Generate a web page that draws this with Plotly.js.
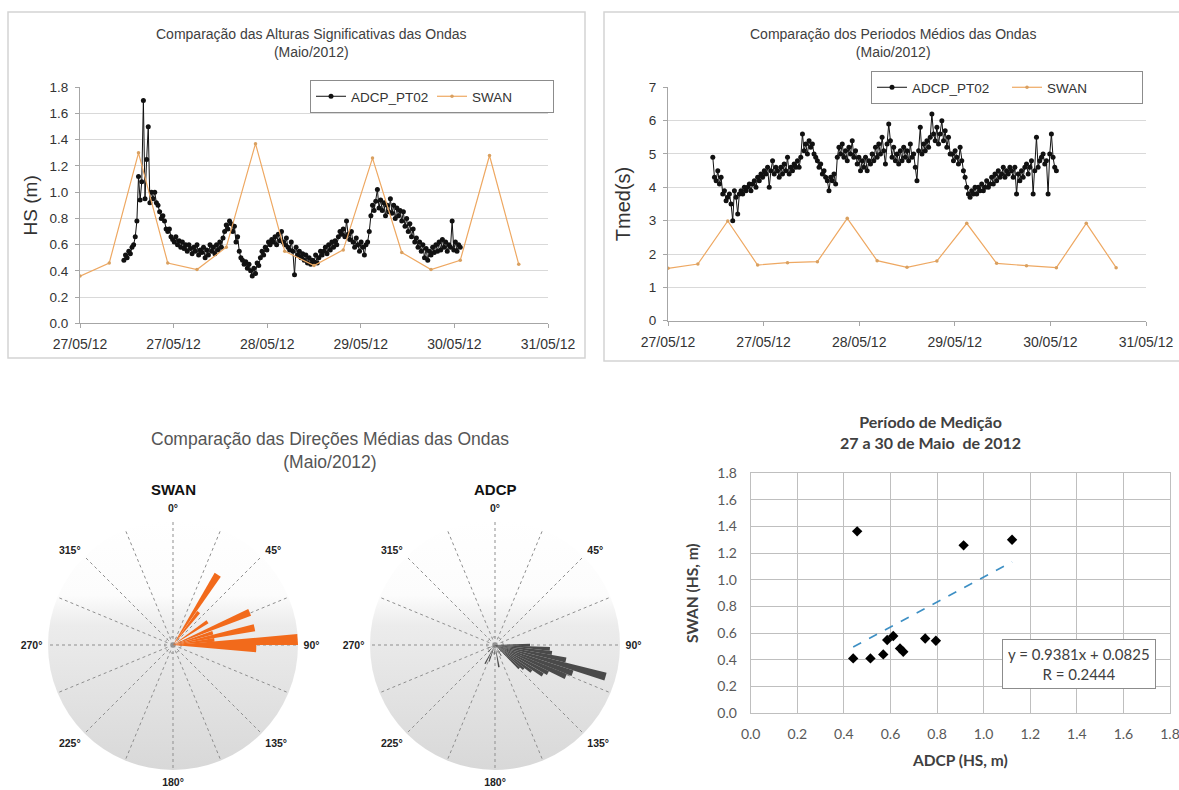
<!DOCTYPE html>
<html><head><meta charset="utf-8">
<script src="https://cdn.plot.ly/plotly-3.0.1.min.js"></script>
<style>html,body{margin:0;padding:0;background:#fff;} #chart{width:1179px;height:790px;}</style>
</head><body><div id="chart"></div>
<script>
// ---------- DATA ----------
// time axis (hours since 27/05/12 00:00), ticks every 0.8 day
const timeTickVals = [0, 19.2, 38.4, 57.6, 76.8, 96];
const timeTickText = ['27/05/12', '27/05/12', '28/05/12', '29/05/12', '30/05/12', '31/05/12'];
const hsTicks = [0, 0.2, 0.4, 0.6, 0.8, 1.0, 1.2, 1.4, 1.6, 1.8];
const tmedTicks = [0, 1, 2, 3, 4, 5, 6, 7];

// SWAN model output every 6 h
const swanHours = [0, 6, 12, 18, 24, 30, 36, 42, 48, 54, 60, 66, 72, 78, 84, 90];
const swanHs   = [0.36, 0.46, 1.30, 0.46, 0.41, 0.58, 1.37, 0.55, 0.44, 0.56, 1.26, 0.54, 0.41, 0.48, 1.28, 0.45];
const swanTmed = [1.57, 1.70, 2.99, 1.67, 1.74, 1.77, 3.07, 1.80, 1.60, 1.79, 2.92, 1.72, 1.65, 1.59, 2.92, 1.59];

// ADCP_PT02 records, every 20 min starting 27/05 09:00
const adcpStartHour = 9;
const adcpStepHours = 1 / 3;
const adcpHs = [
  0.48,0.52,0.50, 0.55,0.53,0.58, 0.60,0.66,0.78, 1.12,0.94,1.08, 1.70,0.95,1.25,
  1.50,0.92,1.00, 0.95,1.00,0.92, 0.90,0.85,0.80, 0.82,0.78,0.72, 0.70,0.72,0.66,
  0.64,0.62,0.66, 0.60,0.63,0.58, 0.62,0.57,0.60, 0.55,0.60,0.57, 0.53,0.58,0.55,
  0.60,0.52,0.56, 0.54,0.58,0.50, 0.56,0.52,0.60, 0.55,0.58,0.53, 0.60,0.56,0.62,
  0.58,0.65,0.70, 0.75,0.72,0.78, 0.76,0.70,0.74, 0.62,0.66,0.55, 0.50,0.48,0.45,
  0.47,0.42,0.45, 0.40,0.36,0.42, 0.38,0.46,0.44, 0.50,0.55,0.52, 0.58,0.56,0.62,
  0.60,0.64,0.62, 0.66,0.60,0.68, 0.63,0.70,0.62, 0.60,0.65,0.58, 0.56,0.62,0.55,
  0.37,0.58,0.52, 0.55,0.50,0.53, 0.48,0.52,0.46, 0.50,0.45,0.48, 0.47,0.52,0.46,
  0.50,0.55,0.52, 0.55,0.58,0.53, 0.60,0.56,0.62, 0.58,0.63,0.60, 0.66,0.70,0.68,
  0.72,0.66,0.78, 0.68,0.64,0.70, 0.62,0.58,0.65, 0.60,0.55,0.62, 0.58,0.52,0.60,
  0.62,0.70,0.82, 0.90,0.86,0.93, 1.02,0.88,0.94, 0.86,0.92,0.82, 0.90,0.85,0.95,
  0.84,0.90,0.80, 0.88,0.82,0.86, 0.78,0.85,0.74, 0.80,0.70,0.76, 0.66,0.72,0.62,
  0.65,0.58,0.62, 0.55,0.60,0.50, 0.57,0.48,0.55, 0.52,0.58,0.54, 0.60,0.55,0.62,
  0.56,0.64,0.58, 0.62,0.55,0.60, 0.58,0.78,0.56, 0.62,0.55,0.60, 0.58
];
const adcpTmed = [
  4.9,4.3,4.2, 4.5,4.1,4.3, 3.8,3.9,3.6, 3.7,3.8,3.5, 3.0,3.9,3.7,
  3.2,3.8,3.9, 3.8,4.0,3.9, 4.0,4.1,3.9, 4.1,4.2,4.0, 4.3,4.2,4.4,
  4.3,4.5,4.4, 4.6,4.0,4.5, 4.8,4.4,4.6, 4.5,4.3,4.6, 4.4,4.7,4.5,
  4.9,4.4,4.6, 4.5,4.7,4.6, 4.8,4.6,4.9, 5.6,5.1,5.3, 5.0,5.4,5.2,
  5.3,5.0,4.9, 4.8,4.6,4.7, 4.4,4.5,4.3, 4.2,3.9,4.3, 4.2,4.4,4.1,
  4.9,5.2,5.0, 5.3,4.9,5.1, 4.8,5.2,5.0, 5.4,4.9,5.1, 4.7,4.9,4.5,
  4.8,4.6,4.9, 4.5,4.8,4.7, 5.0,4.8,5.2, 4.9,5.3,5.0, 5.5,5.1,4.7,
  5.3,5.9,5.4, 4.9,5.2,4.8, 5.0,4.7,5.1, 4.8,5.2,4.9, 5.1,4.8,5.3,
  4.9,5.0,4.6, 4.2,5.1,5.8, 5.0,5.3,5.1, 5.4,5.2,5.5, 6.2,5.6,5.4,
  5.8,5.3,5.6, 6.0,5.4,5.7, 5.2,5.5,5.0, 5.0,4.8,5.1, 4.9,4.7,5.2,
  4.8,4.5,4.3, 4.0,3.8,3.7, 3.9,3.8,4.0, 3.8,4.0,3.9, 4.1,3.9,4.0,
  4.2,4.0,4.1, 4.3,4.1,4.4, 4.2,4.5,4.3, 4.4,4.6,4.3, 4.5,4.4,4.6,
  4.5,4.3,4.6, 3.8,4.4,4.2, 4.5,4.3,4.6, 4.7,4.4,4.6, 4.8,3.8,4.5,
  5.5,4.6,4.8, 4.9,5.0,4.7, 4.8,3.8,5.0, 5.6,4.9,4.6, 4.5
];

// wave direction roses
const dirTickVals = [0,22.5,45,67.5,90,112.5,135,157.5,180,202.5,225,247.5,270,292.5,315,337.5];
const dirTickText = ['0°','','45°','','90°','','135°','','180°','','225°','','270°','','315°',''];
const swanDirTheta = [32.5, 38, 56, 67, 73, 78, 83, 87.5, 92.5];
const swanDirCount = [2, 1, 1, 2, 1, 2, 1, 3, 2];
const adcpDirTheta = [90, 94, 98, 102, 106, 110, 114, 118, 122, 126, 130, 134, 150, 170, 185, 200, 208, 225, 245];
const adcpDirFreq  = [0.28, 0.44, 0.46, 0.58, 0.92, 0.66, 0.62, 0.48, 0.45, 0.36, 0.30, 0.27, 0.10, 0.18, 0.08, 0.14, 0.17, 0.08, 0.06];

// scatter ADCP vs SWAN
const scatAdcp = [0.457, 0.914, 1.122, 0.440, 0.514, 0.569, 0.586, 0.612, 0.641, 0.655, 0.749, 0.795];
const scatSwan = [1.364, 1.259, 1.301, 0.410, 0.410, 0.440, 0.548, 0.578, 0.485, 0.460, 0.560, 0.543];
const scatTicks = [0, 0.2, 0.4, 0.6, 0.8, 1.0, 1.2, 1.4, 1.6, 1.8];
const fitSlope = 0.9381, fitIntercept = 0.0825, fitR = 0.2444;

// ---------- BUILD ----------
const W = 1179, H = 790;
const X = px => px / W, Y = py => 1 - py / H;
const adcpHours = adcpHs.map((_, i) => adcpStartHour + i * adcpStepHours);
const fitX = [Math.min(...scatAdcp), Math.max(...scatAdcp)];
const fitY = fitX.map(v => fitSlope * v + fitIntercept);

const AR = 'Liberation Sans, Arial, sans-serif';
const CAL = 'Lato, Open Sans, sans-serif';
const ORANGE_LINE = '#eea862';

const traces = [
  {type:'scatter', mode:'lines+markers', name:'ADCP_PT02', x:adcpHours, y:adcpHs, xaxis:'x', yaxis:'y',
   line:{color:'#111', width:1}, marker:{color:'#111', size:5}, legend:'legend'},
  {type:'scatter', mode:'lines+markers', name:'SWAN', x:swanHours, y:swanHs, xaxis:'x', yaxis:'y',
   line:{color:ORANGE_LINE, width:1.2}, marker:{color:'#d9a060', size:3.5}, legend:'legend'},
  {type:'scatter', mode:'lines+markers', name:'ADCP_PT02', x:adcpHours, y:adcpTmed, xaxis:'x2', yaxis:'y2',
   line:{color:'#111', width:1}, marker:{color:'#111', size:5}, legend:'legend2'},
  {type:'scatter', mode:'lines+markers', name:'SWAN', x:swanHours, y:swanTmed, xaxis:'x2', yaxis:'y2',
   line:{color:ORANGE_LINE, width:1.2}, marker:{color:'#d9a060', size:3.5}, legend:'legend2'},
  {type:'barpolar', subplot:'polar', theta:swanDirTheta, r:swanDirCount, width:5,
   marker:{color:'#f26a1b', line:{width:0}}, showlegend:false},
  {type:'barpolar', subplot:'polar2', theta:adcpDirTheta, r:adcpDirFreq, width:4,
   marker:{color:'#4a4a4a', line:{width:0}}, showlegend:false},
  {type:'scatter', mode:'markers', x:scatAdcp, y:scatSwan, xaxis:'x3', yaxis:'y3',
   marker:{symbol:'diamond', color:'#000', size:8}, showlegend:false},
  {type:'scatter', mode:'lines', x:fitX, y:fitY, xaxis:'x3', yaxis:'y3',
   line:{color:'#3d8fc4', width:1.6, dash:'dash'}, showlegend:false}
];

const tsX = (domain) => ({
  domain, range:[0, 96], tickmode:'array', tickvals:timeTickVals, ticktext:timeTickText,
  showgrid:false, zeroline:false, showline:true, linecolor:'#a6a6a6', linewidth:1,
  ticks:'outside', ticklen:4, tickcolor:'#a6a6a6', ticklabelstandoff:4,
  tickfont:{family:AR, size:14, color:'#333'}
});
const tsY = (domain, range, tickvals, fmt, title, tsize, standoff) => ({
  domain, range, tickmode:'array', tickvals, tickformat:fmt, showgrid:true, gridcolor:'#d9d9d9', zeroline:false,
  showline:true, linecolor:'#a6a6a6', ticks:'outside', ticklen:4, tickcolor:'#a6a6a6',
  ticklabelstandoff:4, tickfont:{family:AR, size:13.5, color:'#333'},
  title:{text:title, font:{family:AR, size:tsize, color:'#333'}, standoff}
});

const gradSvg = 'data:image/svg+xml;charset=utf-8,' + encodeURIComponent(
 '<svg xmlns="http://www.w3.org/2000/svg" width="250" height="250" viewBox="0 0 250 250">' +
 '<defs><linearGradient id="g" x1="0" y1="0" x2="0" y2="1">' +
 '<stop offset="0" stop-color="#ffffff"/><stop offset="0.3" stop-color="#fcfcfc"/>' +
 '<stop offset="0.42" stop-color="#ececec"/><stop offset="1" stop-color="#d8d8d8"/>' +
 '</linearGradient></defs><circle cx="125" cy="125" r="125" fill="url(#g)"/></svg>');

const polarAx = (dom, rmax) => ({
  domain:dom, bgcolor:'rgba(0,0,0,0)',
  angularaxis:{rotation:90, direction:'clockwise', tickmode:'array', tickvals:dirTickVals, ticktext:dirTickText,
    showline:false, ticks:'outside', ticklen:3, tickcolor:'rgba(0,0,0,0)', showgrid:true, gridcolor:'#8f8f8f',
    griddash:'dot', gridwidth:1, tickfont:{family:AR, size:10.5, color:'#222', weight:'bold'}},
  radialaxis:{range:[0, rmax], tickmode:'array', tickvals:[rmax*0.065, rmax*0.997], showticklabels:false,
    ticks:'', showline:false, showgrid:true, gridcolor:'#8f8f8f', griddash:'dot', gridwidth:1}
});

const layout = {
  width:W, height:H, margin:{l:0, r:0, t:0, b:0, autoexpand:false}, paper_bgcolor:'#fff', plot_bgcolor:'#fff',
  font:{family:AR, color:'#333'},
  xaxis: tsX([X(80), X(548)]),
  yaxis: tsY([Y(323.3), Y(87.3)], [0, 1.8], hsTicks, '.1f', 'HS (m)', 19, 6),
  xaxis2: Object.assign(tsX([X(668), X(1146)]), {anchor:'y2'}),
  yaxis2: Object.assign(tsY([Y(320.7), Y(87.3)], [0, 7], tmedTicks, 'd', 'Tmed(s)', 20, 12), {anchor:'x2'}),
  xaxis3: {domain:[X(750.7), X(1170)], anchor:'y3', range:[0, 1.8], tickmode:'array', tickvals:scatTicks, tickformat:'.1f',
    showgrid:true, gridcolor:'#bfbfbf', zeroline:false, showline:true, mirror:true, linecolor:'#bfbfbf',
    ticks:'outside', ticklen:8, tickcolor:'rgba(0,0,0,0)', ticklabeloverflow:'allow',
    tickfont:{family:CAL, size:14, color:'#595959'},
    title:{text:'ADCP (HS, m)', font:{family:CAL, size:15.5, color:'#404040', weight:'bold'}, standoff:14}},
  yaxis3: {domain:[Y(713), Y(473.3)], anchor:'x3', range:[0, 1.8], tickmode:'array', tickvals:scatTicks, tickformat:'.1f',
    showgrid:true, gridcolor:'#bfbfbf', zeroline:false, showline:true, mirror:true, linecolor:'#bfbfbf',
    ticks:'outside', ticklen:10, tickcolor:'rgba(0,0,0,0)', tickfont:{family:CAL, size:14, color:'#595959'},
    title:{text:'SWAN (HS, m)', font:{family:CAL, size:15.5, color:'#404040', weight:'bold'}, standoff:14}},
  polar: polarAx({x:[X(48), X(298)], y:[Y(770), Y(520)]}, 3),
  polar2: polarAx({x:[X(370), X(620)], y:[Y(770), Y(520)]}, 1),
  legend: {x:X(310), xanchor:'left', y:Y(80), yanchor:'top', orientation:'h', bgcolor:'#fff',
    bordercolor:'#8c8c8c', borderwidth:1, font:{family:AR, size:13.5, color:'#333'}, entrywidth:76, itemwidth:30},
  legend2: {x:X(871), xanchor:'left', y:Y(71), yanchor:'top', orientation:'h', bgcolor:'#fff',
    bordercolor:'#8c8c8c', borderwidth:1, font:{family:AR, size:13.5, color:'#333'}, entrywidth:90, itemwidth:30},
  images: [
    {source:gradSvg, xref:'paper', yref:'paper', x:X(48), y:Y(520), sizex:250/W, sizey:250/H,
     xanchor:'left', yanchor:'top', sizing:'stretch', layer:'below'},
    {source:gradSvg, xref:'paper', yref:'paper', x:X(370), y:Y(520), sizex:250/W, sizey:250/H,
     xanchor:'left', yanchor:'top', sizing:'stretch', layer:'below'}
  ],
  shapes: [
    {type:'rect', xref:'paper', yref:'paper', x0:X(8), x1:X(585), y0:Y(358), y1:Y(12), line:{color:'#d4d4d4', width:1.5}, layer:'below'},
    {type:'rect', xref:'paper', yref:'paper', x0:X(604), x1:X(1180), y0:Y(361), y1:Y(12), line:{color:'#d4d4d4', width:1.5}, layer:'below'}
  ],
  annotations: [
    {text:'Comparação das Alturas Significativas das Ondas<br>(Maio/2012)', x:X(311), y:Y(43.5), xref:'paper', yref:'paper',
     showarrow:false, xanchor:'center', yanchor:'middle', font:{family:AR, size:14, color:'#404040'}},
    {text:'Comparação dos Periodos Médios das Ondas<br>(Maio/2012)', x:X(893), y:Y(43.5), xref:'paper', yref:'paper',
     showarrow:false, xanchor:'center', yanchor:'middle', font:{family:AR, size:14, color:'#404040'}},
    {text:'Comparação das Direções Médias das Ondas<br>(Maio/2012)', x:X(330), y:Y(450.5), xref:'paper', yref:'paper',
     showarrow:false, xanchor:'center', yanchor:'middle', font:{family:AR, size:17.5, color:'#555'}},
    {text:'SWAN', x:X(173), y:Y(489), xref:'paper', yref:'paper', showarrow:false, xanchor:'center', yanchor:'middle',
     font:{family:AR, size:15, color:'#111', weight:'bold'}},
    {text:'ADCP', x:X(495), y:Y(489), xref:'paper', yref:'paper', showarrow:false, xanchor:'center', yanchor:'middle',
     font:{family:AR, size:15, color:'#111', weight:'bold'}},
    {text:'Período de Medição<br>27 a 30 de Maio  de 2012', x:X(930), y:Y(431.5), xref:'paper', yref:'paper',
     showarrow:false, xanchor:'center', yanchor:'middle', font:{family:CAL, size:16, color:'#404040', weight:'bold'}},
    {text:'y = ' + fitSlope.toFixed(4) + 'x + ' + fitIntercept.toFixed(4) + '<br>R = ' + fitR.toFixed(4),
     x:X(1079), y:Y(664), xref:'paper', yref:'paper', showarrow:false, xanchor:'center', yanchor:'middle',
     bgcolor:'#fff', bordercolor:'#8c8c8c', borderwidth:1, borderpad:5, font:{family:CAL, size:15, color:'#404040'}}
  ]
};

Plotly.newPlot('chart', traces, layout, {displayModeBar:false, staticPlot:true});
</script></body></html>
